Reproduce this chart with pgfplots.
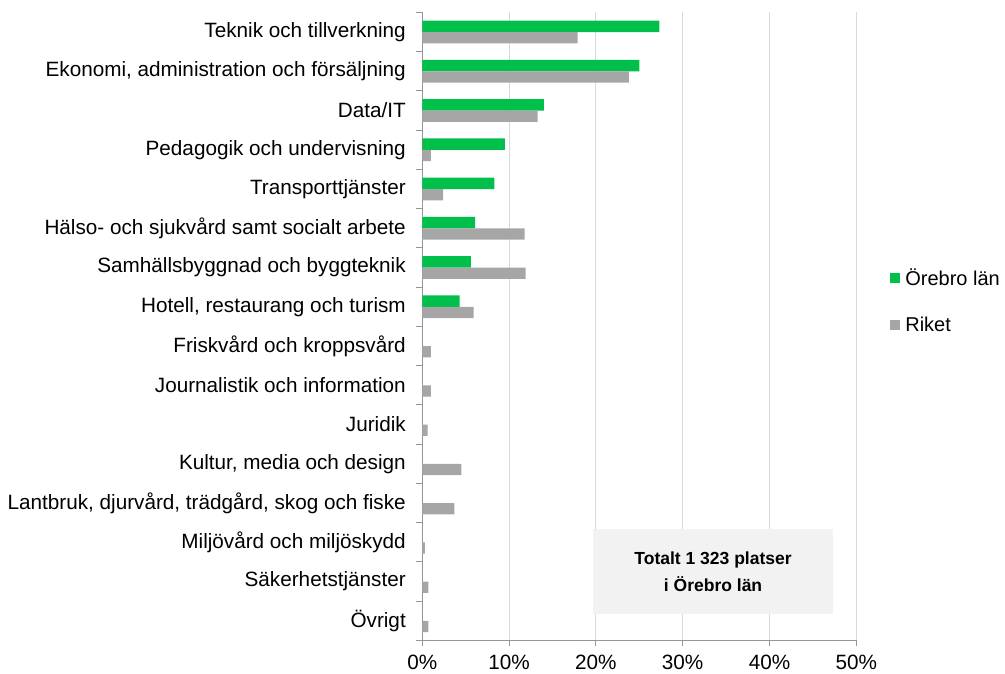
\documentclass[border=0pt]{standalone}
\usepackage{pgfplots}
\pgfplotsset{compat=1.18}
\usepackage{fontspec}
\setmainfont{Liberation Sans}
\definecolor{grn}{HTML}{00C04B}
\definecolor{gry}{HTML}{A6A6A6}
\definecolor{gridc}{HTML}{D9D9D9}
\definecolor{axc}{HTML}{969696}
\definecolor{boxc}{HTML}{F2F2F2}
\begin{document}
\begin{tikzpicture}
\begin{axis}[
  scale only axis,
  width=434pt, height=628pt,
  xbar, bar width=11.3pt,
  xmin=0, xmax=50, ymin=-0.5, ymax=15.5,
  enlargelimits=false,
  axis x line*=bottom, axis y line*=left,
  axis line style={axc, line width=1pt},
  tick align=outside,
  major tick length=6pt,
  minor tick length=6pt,
  tick style={axc, line width=1pt},
  xtick={0,10,...,50},
  xticklabels={0\%,10\%,20\%,30\%,40\%,50\%},
  xmajorgrids, grid style={gridc, line width=0.8pt},
  ytick={0,...,15},
  minor ytick={-0.5,0.5,...,15.5},
  every major y tick/.append style={draw=none},
  every minor y tick/.append style={draw=axc, line width=1pt},
  yticklabels={Övrigt,Säkerhetstjänster,Miljövård och miljöskydd,{Lantbruk, djurvård, trädgård, skog och fiske},{Kultur, media och design},Juridik,Journalistik och information,Friskvård och kroppsvård,{Hotell, restaurang och turism},Samhällsbyggnad och byggteknik,Hälso- och sjukvård samt socialt arbete,Transporttjänster,Pedagogik och undervisning,Data/IT,{Ekonomi, administration och försäljning},Teknik och tillverkning},
  ticklabel style={font=\fontsize{20.7}{24}\selectfont, text=black},
  yticklabel style={xshift=-7pt},
  xticklabel style={yshift=-5pt},
  legend style={draw=none, fill=none, at={(1.078,0.541)}, anchor=west,
     font=\fontsize{20}{24}\selectfont, row sep=26pt, inner sep=0pt,
     legend cell align=left, nodes={inner xsep=5pt}},
  legend image code/.code={\fill[#1] (0pt,-5pt) rectangle (10pt,5pt);},
]
\addplot[fill=grn, draw=none, bar shift=5.65pt] coordinates {
 (27.3,15) (25.0,14) (14.0,13) (9.5,12) (8.3,11) (6.1,10) (5.6,9) (4.3,8)
};
\addplot[fill=gry, draw=none, bar shift=-5.65pt] coordinates {
 (17.9,15) (23.8,14) (13.3,13) (1.0,12) (2.4,11) (11.8,10) (11.9,9) (5.9,8)
 (1.0,7) (1.0,6) (0.6,5) (4.5,4) (3.7,3) (0.3,2) (0.7,1) (0.7,0)
};
\legend{Örebro län, Riket}
\fill[boxc] (axis cs:19.67,0.17) rectangle (axis cs:47.3,2.34);
\node[align=center, font=\bfseries\fontsize{17.5}{27}\selectfont] at (axis cs:33.5,1.25) {Totalt 1 323 platser\\i Örebro län};
\end{axis}
\pgfresetboundingbox
\path (-422.3pt,-32.6pt) rectangle (582.7pt,640.4pt);
\end{tikzpicture}
\end{document}
